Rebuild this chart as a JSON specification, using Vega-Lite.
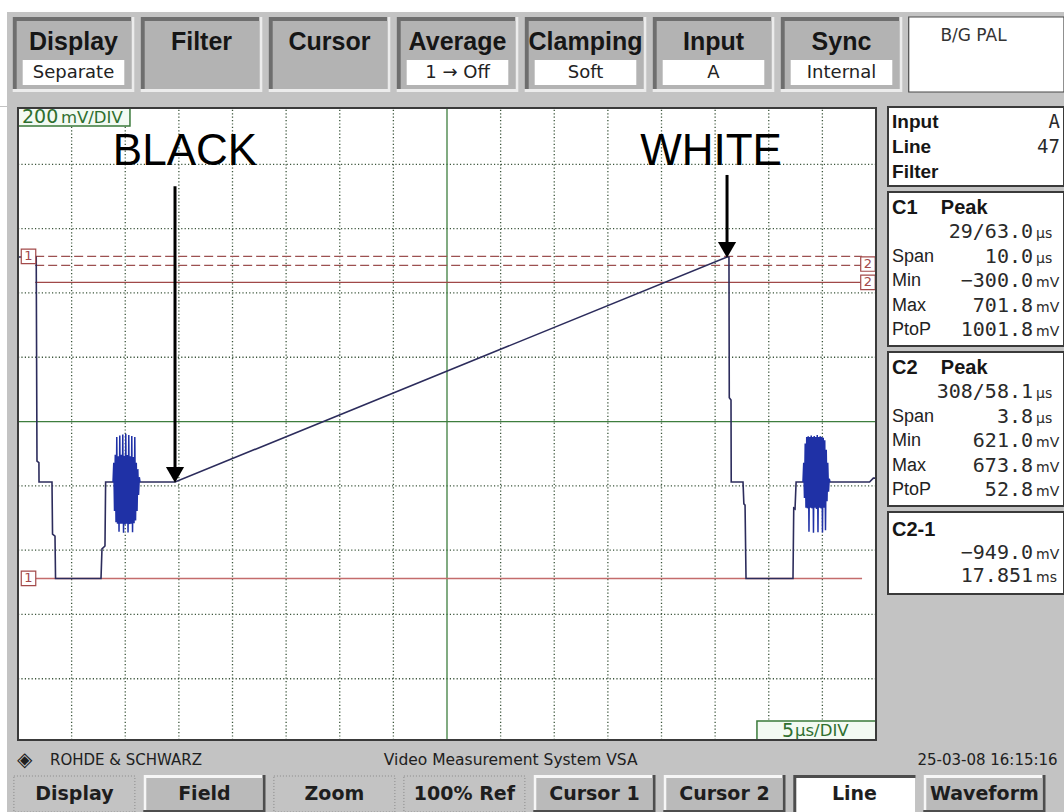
{
  "$schema": "https://vega.github.io/schema/vega-lite/v6.json",
  "padding": 0,
  "background": "#c3c3c3",
  "spacing": 0,
  "config": {"view": {"stroke": null}},
  "datasets": {
    "top": [
      {"name": "Display", "sub": "Separate"},
      {"name": "Filter"},
      {"name": "Cursor"},
      {"name": "Average", "sub": "1     → Off"},
      {"name": "Clamping", "sub": "Soft"},
      {"name": "Input", "sub": "A"},
      {"name": "Sync", "sub": "Internal"},
      {"name": "B/G PAL"}
    ],
    "bottom": [
      {"name": "Display", "state": "flat"},
      {"name": "Field", "state": "raised"},
      {"name": "Zoom", "state": "flat"},
      {"name": "100% Ref", "state": "flat"},
      {"name": "Cursor 1", "state": "raised"},
      {"name": "Cursor 2", "state": "raised"},
      {"name": "Line", "state": "active"},
      {"name": "Waveform", "state": "raised"}
    ],
    "brand": [
      {"part": "logo", "label": "◈"},
      {"part": "maker", "label": "ROHDE & SCHWARZ"},
      {"part": "system", "label": "Video Measurement System VSA"},
      {"part": "date", "label": "25-03-08  16:15:16"}
    ],
    "gridv": [
      {"t": 5}, {"t": 10}, {"t": 15}, {"t": 20}, {"t": 25}, {"t": 30}, {"t": 35},
      {"t": 40, "major": true},
      {"t": 45}, {"t": 50}, {"t": 55}, {"t": 60}, {"t": 65}, {"t": 70}, {"t": 75}
    ],
    "gridh": [
      {"v": -612}, {"v": -412}, {"v": -212}, {"v": -12},
      {"v": 188, "major": true},
      {"v": 388}, {"v": 588}, {"v": 788}, {"v": 988}
    ],
    "cursors": [
      {"id": "C1 max", "v": 701.8, "kind": "dash"},
      {"id": "C2 max", "v": 673.8, "kind": "dash"},
      {"id": "C2 min", "v": 621.0, "kind": "solid"},
      {"id": "C1 min", "v": -300.0, "kind": "solid"}
    ],
    "markers": [
      {"label": "1", "t": 0.98, "v": 701.8},
      {"label": "1", "t": 0.98, "v": -300.0},
      {"label": "2", "t": 79.25, "v": 678.0},
      {"label": "2", "t": 79.25, "v": 621.0}
    ],
    "arrows": [
      {"label": "BLACK", "tl": 15.57, "ta": 14.64, "vtop": 920, "vhead": 22},
      {"label": "WHITE", "tl": 64.62, "ta": 66.11, "vtop": 955, "vhead": 722}
    ],
    "trace": [
      {"series": "trace", "t": 0, "v": 700},
      {"series": "trace", "t": 1.70, "v": 700},
      {"series": "trace", "t": 1.77, "v": 65},
      {"series": "trace", "t": 1.95, "v": 60},
      {"series": "trace", "t": 1.96, "v": 0},
      {"series": "trace", "t": 3.17, "v": 0},
      {"series": "trace", "t": 3.22, "v": -162},
      {"series": "trace", "t": 3.45, "v": -168},
      {"series": "trace", "t": 3.50, "v": -300},
      {"series": "trace", "t": 7.74, "v": -300},
      {"series": "trace", "t": 7.83, "v": -208},
      {"series": "trace", "t": 8.11, "v": -199},
      {"series": "trace", "t": 8.17, "v": 0},
      {"series": "trace", "t": 14.64, "v": 0},
      {"series": "trace", "t": 66.11, "v": 700},
      {"series": "trace", "t": 66.29, "v": 700},
      {"series": "trace", "t": 66.32, "v": 262},
      {"series": "trace", "t": 66.48, "v": 255},
      {"series": "trace", "t": 66.50, "v": 0},
      {"series": "trace", "t": 67.60, "v": 0},
      {"series": "trace", "t": 67.68, "v": -68},
      {"series": "trace", "t": 67.79, "v": -72},
      {"series": "trace", "t": 67.88, "v": -300},
      {"series": "trace", "t": 72.26, "v": -300},
      {"series": "trace", "t": 72.33, "v": -81},
      {"series": "trace", "t": 72.45, "v": -84},
      {"series": "trace", "t": 72.55, "v": 0},
      {"series": "trace", "t": 79.40, "v": 0},
      {"series": "trace", "t": 79.75, "v": 12},
      {"series": "trace", "t": 80.0, "v": 12},
      {"series": "burst1", "t": 8.86, "v": 0},
      {"series": "burst1", "t": 8.93, "v": 60},
      {"series": "burst1", "t": 9.00, "v": -90},
      {"series": "burst1", "t": 9.07, "v": 85},
      {"series": "burst1", "t": 9.14, "v": -125},
      {"series": "burst1", "t": 9.21, "v": 140},
      {"series": "burst1", "t": 9.28, "v": -130},
      {"series": "burst1", "t": 9.35, "v": 80},
      {"series": "burst1", "t": 9.42, "v": -155},
      {"series": "burst1", "t": 9.49, "v": 145},
      {"series": "burst1", "t": 9.56, "v": -130},
      {"series": "burst1", "t": 9.63, "v": 85},
      {"series": "burst1", "t": 9.70, "v": -130},
      {"series": "burst1", "t": 9.77, "v": 148},
      {"series": "burst1", "t": 9.84, "v": -158},
      {"series": "burst1", "t": 9.91, "v": 82},
      {"series": "burst1", "t": 9.98, "v": -132},
      {"series": "burst1", "t": 10.05, "v": 150},
      {"series": "burst1", "t": 10.12, "v": -130},
      {"series": "burst1", "t": 10.19, "v": 84},
      {"series": "burst1", "t": 10.26, "v": -157},
      {"series": "burst1", "t": 10.33, "v": 146},
      {"series": "burst1", "t": 10.40, "v": -131},
      {"series": "burst1", "t": 10.47, "v": 80},
      {"series": "burst1", "t": 10.54, "v": -130},
      {"series": "burst1", "t": 10.61, "v": 143},
      {"series": "burst1", "t": 10.68, "v": -156},
      {"series": "burst1", "t": 10.75, "v": 78},
      {"series": "burst1", "t": 10.82, "v": -128},
      {"series": "burst1", "t": 10.89, "v": 140},
      {"series": "burst1", "t": 10.96, "v": -120},
      {"series": "burst1", "t": 11.03, "v": 60},
      {"series": "burst1", "t": 11.10, "v": -90},
      {"series": "burst1", "t": 11.17, "v": 40},
      {"series": "burst1", "t": 11.24, "v": -40},
      {"series": "burst1", "t": 11.31, "v": 15},
      {"series": "burst1", "t": 11.38, "v": 0},
      {"series": "burst2", "t": 73.19, "v": 0},
      {"series": "burst2", "t": 73.26, "v": 60},
      {"series": "burst2", "t": 73.33, "v": -50},
      {"series": "burst2", "t": 73.40, "v": 120},
      {"series": "burst2", "t": 73.47, "v": -80},
      {"series": "burst2", "t": 73.54, "v": 140},
      {"series": "burst2", "t": 73.61, "v": -82},
      {"series": "burst2", "t": 73.68, "v": 142},
      {"series": "burst2", "t": 73.75, "v": -155},
      {"series": "burst2", "t": 73.82, "v": 140},
      {"series": "burst2", "t": 73.89, "v": -80},
      {"series": "burst2", "t": 73.96, "v": 145},
      {"series": "burst2", "t": 74.03, "v": -82},
      {"series": "burst2", "t": 74.10, "v": 140},
      {"series": "burst2", "t": 74.17, "v": -158},
      {"series": "burst2", "t": 74.24, "v": 143},
      {"series": "burst2", "t": 74.31, "v": -80},
      {"series": "burst2", "t": 74.38, "v": 140},
      {"series": "burst2", "t": 74.45, "v": -84},
      {"series": "burst2", "t": 74.52, "v": 146},
      {"series": "burst2", "t": 74.59, "v": -156},
      {"series": "burst2", "t": 74.66, "v": 140},
      {"series": "burst2", "t": 74.73, "v": -80},
      {"series": "burst2", "t": 74.80, "v": 142},
      {"series": "burst2", "t": 74.87, "v": -82},
      {"series": "burst2", "t": 74.94, "v": 140},
      {"series": "burst2", "t": 75.01, "v": -157},
      {"series": "burst2", "t": 75.08, "v": 138},
      {"series": "burst2", "t": 75.15, "v": -80},
      {"series": "burst2", "t": 75.22, "v": 130},
      {"series": "burst2", "t": 75.29, "v": -150},
      {"series": "burst2", "t": 75.36, "v": 100},
      {"series": "burst2", "t": 75.43, "v": -60},
      {"series": "burst2", "t": 75.50, "v": 60},
      {"series": "burst2", "t": 75.57, "v": -30},
      {"series": "burst2", "t": 75.64, "v": 10},
      {"series": "burst2", "t": 75.71, "v": 0}
    ],
    "panel": [
      {"box": "info", "row": "r0", "head": "Input", "val": "A"},
      {"box": "info", "row": "r1", "head": "Line", "val": "47"},
      {"box": "info", "row": "r2", "head": "Filter"},
      {"box": "c1", "row": "r0", "head": "C1", "head2": "Peak"},
      {"box": "c1", "row": "r1", "num": "29/63.0", "unit": "µs"},
      {"box": "c1", "row": "r2", "lab": "Span", "num": "10.0", "unit": "µs"},
      {"box": "c1", "row": "r3", "lab": "Min", "num": "−300.0", "unit": "mV"},
      {"box": "c1", "row": "r4", "lab": "Max", "num": "701.8", "unit": "mV"},
      {"box": "c1", "row": "r5", "lab": "PtoP", "num": "1001.8", "unit": "mV"},
      {"box": "c2", "row": "r0", "head": "C2", "head2": "Peak"},
      {"box": "c2", "row": "r1", "num": "308/58.1", "unit": "µs"},
      {"box": "c2", "row": "r2", "lab": "Span", "num": "3.8", "unit": "µs"},
      {"box": "c2", "row": "r3", "lab": "Min", "num": "621.0", "unit": "mV"},
      {"box": "c2", "row": "r4", "lab": "Max", "num": "673.8", "unit": "mV"},
      {"box": "c2", "row": "r5", "lab": "PtoP", "num": "52.8", "unit": "mV"},
      {"box": "diff", "row": "r0", "head": "C2-1"},
      {"box": "diff", "row": "r1", "num": "−949.0", "unit": "mV"},
      {"box": "diff", "row": "r2", "num": "17.851", "unit": "ms"}
    ]
  },
  "vconcat": [
    {
      "width": 1064,
      "height": 106,
      "resolve": {"scale": {"x": "independent"}},
      "layer": [
        {
          "data": {"values": [{"strip": "top"}]},
          "mark": {"type": "rect", "color": "#ffffff"},
          "encoding": {
            "y": {"datum": 1, "type": "quantitative", "scale": {"domain": [0, 1], "nice": false, "zero": false}, "axis": null},
            "y2": {"datum": 0.8868}
          }
        },
        {
          "data": {"values": [{"strip": "left"}]},
          "mark": {"type": "rect", "color": "#ffffff"},
          "encoding": {
            "x": {"datum": 0, "type": "quantitative", "scale": {"domain": [0, 1], "nice": false, "zero": false}, "axis": null},
            "x2": {"datum": 0.0066},
            "y": {"datum": 1, "type": "quantitative"},
            "y2": {"datum": 0}
          }
        },
        {
          "data": {"name": "top"},
          "encoding": {
            "x": {"field": "name", "type": "nominal", "axis": null,
              "scale": {"domain": ["Display", "Filter", "Cursor", "Average", "Clamping", "Input", "Sync", "B/G PAL"], "paddingInner": 0.05, "paddingOuter": 0.18125, "align": 0.2737}}
          },
          "layer": [
            {
              "transform": [{"filter": "datum.name != 'B/G PAL'"}],
              "mark": {"type": "bar", "color": "#ececec", "width": {"band": 1}},
              "encoding": {"y": {"datum": 0.8396, "type": "quantitative"}, "y2": {"datum": 0.1321}}
            },
            {
              "transform": [{"filter": "datum.name != 'B/G PAL'"}],
              "mark": {"type": "bar", "color": "#6e6e6e", "width": {"band": 0.975}, "xOffset": -1.5, "y2Offset": -3},
              "encoding": {"y": {"datum": 0.8396, "type": "quantitative"}, "y2": {"datum": 0.1321}}
            },
            {
              "transform": [{"filter": "datum.name != 'B/G PAL'"}],
              "mark": {"type": "bar", "color": "#b3b3b3", "width": {"band": 0.9424}, "xOffset": 0.5, "yOffset": 4, "y2Offset": -3},
              "encoding": {"y": {"datum": 0.8396, "type": "quantitative"}, "y2": {"datum": 0.1321}}
            },
            {
              "transform": [{"filter": "isValid(datum.sub)"}],
              "mark": {"type": "bar", "color": "#ffffff", "width": {"band": 0.8355}},
              "encoding": {"y": {"datum": 0.434, "type": "quantitative"}, "y2": {"datum": 0.198}}
            },
            {
              "transform": [{"filter": "datum.name == 'B/G PAL'"}],
              "mark": {"type": "bar", "fill": "#ffffff", "stroke": "#4a4a4a", "strokeWidth": 1.2, "width": {"band": 1.277}, "xOffset": 16.85},
              "encoding": {"y": {"datum": 0.8396, "type": "quantitative"}, "y2": {"datum": 0.1321}}
            },
            {
              "transform": [{"filter": "datum.name != 'B/G PAL'"}],
              "mark": {"type": "text", "font": "Liberation Sans", "fontWeight": "bold", "fontSize": 25, "color": "#161616", "baseline": "middle"},
              "encoding": {"y": {"datum": 0.6038, "type": "quantitative"}, "text": {"field": "name"}}
            },
            {
              "transform": [{"filter": "isValid(datum.sub)"}],
              "mark": {"type": "text", "font": "DejaVu Sans", "fontSize": 18, "color": "#222222", "baseline": "middle"},
              "encoding": {"y": {"datum": 0.311, "type": "quantitative"}, "text": {"field": "sub"}}
            },
            {
              "transform": [{"filter": "datum.name == 'B/G PAL'"}],
              "mark": {"type": "text", "font": "DejaVu Sans", "fontSize": 17, "color": "#333333", "baseline": "middle", "dx": 4},
              "encoding": {"y": {"datum": 0.66, "type": "quantitative"}, "text": {"field": "name"}}
            }
          ]
        }
      ]
    },
    {
      "hconcat": [
        {
          "width": 882,
          "height": 638,
          "layer": [
            {
              "data": {"values": [{"strip": "left"}]},
              "mark": {"type": "rect", "color": "#ffffff"},
              "encoding": {
                "x": {"datum": -1.678, "type": "quantitative", "scale": {"domain": [-1.678, 80.559], "nice": false, "zero": false}, "axis": null},
                "x2": {"datum": -1.026},
                "y": {"datum": -818, "type": "quantitative", "scale": {"domain": [-818, 1166.4], "nice": false, "zero": false}, "axis": null},
                "y2": {"datum": 1166.4}
              }
            },
            {
              "data": {"values": [{"area": "screen"}]},
              "mark": {"type": "rect", "color": "#ffffff"},
              "encoding": {
                "x": {"datum": 0, "type": "quantitative"},
                "x2": {"datum": 80},
                "y": {"datum": -802.5, "type": "quantitative"},
                "y2": {"datum": 1163.3}
              }
            },
            {
              "data": {"name": "gridv"},
              "transform": [{"filter": "!datum.major"}],
              "mark": {"type": "rule", "color": "#3b553b", "strokeWidth": 1.3, "strokeDash": [1.2, 2.2]},
              "encoding": {"x": {"field": "t", "type": "quantitative"}, "y": {"datum": -802.5, "type": "quantitative"}, "y2": {"datum": 1163.3}}
            },
            {
              "data": {"name": "gridh"},
              "transform": [{"filter": "!datum.major"}],
              "mark": {"type": "rule", "color": "#3b553b", "strokeWidth": 1.3, "strokeDash": [1.2, 2.2]},
              "encoding": {"y": {"field": "v", "type": "quantitative"}, "x": {"datum": 0, "type": "quantitative"}, "x2": {"datum": 80}}
            },
            {
              "data": {"name": "gridv"},
              "transform": [{"filter": "datum.major"}],
              "mark": {"type": "rule", "color": "#3e7e3e", "strokeWidth": 1.3},
              "encoding": {"x": {"field": "t", "type": "quantitative"}, "y": {"datum": -802.5, "type": "quantitative"}, "y2": {"datum": 1163.3}}
            },
            {
              "data": {"name": "gridh"},
              "transform": [{"filter": "datum.major"}],
              "mark": {"type": "rule", "color": "#3e7e3e", "strokeWidth": 1.3},
              "encoding": {"y": {"field": "v", "type": "quantitative"}, "x": {"datum": 0, "type": "quantitative"}, "x2": {"datum": 80}}
            },
            {
              "data": {"name": "cursors"},
              "mark": {"type": "rule", "strokeWidth": 1.4},
              "encoding": {
                "y": {"field": "v", "type": "quantitative"},
                "x": {"datum": 1.6, "type": "quantitative"},
                "x2": {"datum": 78.7},
                "color": {"field": "id", "type": "nominal", "legend": null,
                  "scale": {"domain": ["C1 max", "C2 max", "C2 min", "C1 min"], "range": ["#9c5050", "#9c5050", "#a04848", "#c46c6c"]}},
                "strokeDash": {"field": "kind", "type": "nominal", "legend": null,
                  "scale": {"domain": ["dash", "solid"], "range": [[9, 4], [1, 0]]}}
              }
            },
            {
              "data": {"name": "trace"},
              "transform": [{"filter": "datum.series == 'trace'"}],
              "mark": {"type": "line", "strokeWidth": 1.6, "color": "#2c2c5c", "interpolate": "linear"},
              "encoding": {
                "x": {"field": "t", "type": "quantitative"},
                "y": {"field": "v", "type": "quantitative"}
              }
            },
            {
              "data": {"name": "trace"},
              "transform": [{"filter": "datum.series != 'trace'"}],
              "mark": {"type": "line", "strokeWidth": 1.5, "color": "#1f31a6", "interpolate": "linear"},
              "encoding": {
                "x": {"field": "t", "type": "quantitative"},
                "y": {"field": "v", "type": "quantitative"},
                "detail": {"field": "series", "type": "nominal"}
              }
            },
            {
              "data": {"name": "arrows"},
              "mark": {"type": "rule", "color": "#000000", "strokeWidth": 3},
              "encoding": {"x": {"field": "ta", "type": "quantitative"}, "y": {"field": "vtop", "type": "quantitative"}, "y2": {"field": "vhead"}}
            },
            {
              "data": {"name": "arrows"},
              "mark": {"type": "point", "shape": "triangle-down", "size": 330, "filled": true, "color": "#000000", "opacity": 1},
              "encoding": {"x": {"field": "ta", "type": "quantitative"}, "y": {"field": "vhead", "type": "quantitative"}}
            },
            {
              "data": {"name": "arrows"},
              "mark": {"type": "text", "font": "Liberation Sans", "fontSize": 44, "color": "#000000", "baseline": "middle"},
              "encoding": {"x": {"field": "tl", "type": "quantitative"}, "y": {"datum": 1026, "type": "quantitative"}, "text": {"field": "label"}}
            },
            {
              "data": {"values": [{"scale": "200mV/DIV"}]},
              "mark": {"type": "rect", "fill": "#f3faf3", "stroke": "#3a7a3a", "strokeWidth": 1.5},
              "encoding": {"x": {"datum": 0, "type": "quantitative"}, "x2": {"datum": 10.44}, "y": {"datum": 1107.2, "type": "quantitative"}, "y2": {"datum": 1163.3}}
            },
            {
              "data": {"values": [{"scale": "5µs/DIV"}]},
              "mark": {"type": "rect", "fill": "#f3faf3", "stroke": "#3a7a3a", "strokeWidth": 1.5},
              "encoding": {"x": {"datum": 68.9, "type": "quantitative"}, "x2": {"datum": 80}, "y": {"datum": -802.5, "type": "quantitative"}, "y2": {"datum": -743.4}}
            },
            {
              "data": {"values": [{"txt": "200"}]},
              "mark": {"type": "text", "font": "DejaVu Sans", "fontSize": 19, "color": "#2f6f2f", "align": "left", "baseline": "middle"},
              "encoding": {"x": {"datum": 0.37, "type": "quantitative"}, "y": {"datum": 1134, "type": "quantitative"}, "text": {"field": "txt"}}
            },
            {
              "data": {"values": [{"txt": "mV/DIV"}]},
              "mark": {"type": "text", "font": "DejaVu Sans", "fontSize": 16.5, "color": "#2f6f2f", "align": "left", "baseline": "middle"},
              "encoding": {"x": {"datum": 4.0, "type": "quantitative"}, "y": {"datum": 1133, "type": "quantitative"}, "text": {"field": "txt"}}
            },
            {
              "data": {"values": [{"txt": "5"}]},
              "mark": {"type": "text", "font": "DejaVu Sans", "fontSize": 19, "color": "#2f6f2f", "align": "left", "baseline": "middle"},
              "encoding": {"x": {"datum": 71.24, "type": "quantitative"}, "y": {"datum": -773, "type": "quantitative"}, "text": {"field": "txt"}}
            },
            {
              "data": {"values": [{"txt": "µs/DIV"}]},
              "mark": {"type": "text", "font": "DejaVu Sans", "fontSize": 16.5, "color": "#2f6f2f", "align": "left", "baseline": "middle"},
              "encoding": {"x": {"datum": 72.45, "type": "quantitative"}, "y": {"datum": -774, "type": "quantitative"}, "text": {"field": "txt"}}
            },
            {
              "data": {"name": "markers"},
              "mark": {"type": "point", "shape": "square", "size": 210, "filled": true, "fill": "#ffffff", "stroke": "#a34a4a", "strokeWidth": 1.2, "opacity": 1, "fillOpacity": 1, "strokeOpacity": 1},
              "encoding": {"x": {"field": "t", "type": "quantitative"}, "y": {"field": "v", "type": "quantitative"}}
            },
            {
              "data": {"name": "markers"},
              "mark": {"type": "text", "font": "DejaVu Sans", "fontSize": 13, "color": "#a34a4a", "baseline": "middle"},
              "encoding": {"x": {"field": "t", "type": "quantitative"}, "y": {"field": "v", "type": "quantitative"}, "text": {"field": "label"}}
            },
            {
              "data": {"values": [{"area": "screen"}]},
              "mark": {"type": "rect", "filled": false, "stroke": "#3a3a3a", "strokeWidth": 2},
              "encoding": {
                "x": {"datum": 0, "type": "quantitative"},
                "x2": {"datum": 80},
                "y": {"datum": -802.5, "type": "quantitative"},
                "y2": {"datum": 1163.3}
              }
            }
          ]
        },
        {
          "vconcat": [
            {
              "width": 176,
              "height": 79,
              "view": {"fill": "#ffffff", "stroke": "#3a3a3a", "strokeWidth": 2},
              "data": {"name": "panel"},
              "transform": [{"filter": "datum.box == 'info'"}],
              "encoding": {"y": {"field": "row", "type": "ordinal", "scale": {"type": "point", "domain": ["r0", "r1", "r2"], "padding": 0.58}, "axis": null}},
              "layer": [
                {
                  "transform": [{"filter": "isValid(datum.head)"}],
                  "mark": {"type": "text", "align": "left", "baseline": "middle", "font": "Liberation Sans", "fontWeight": "bold", "fontSize": 19, "color": "#161616"},
                  "encoding": {"x": {"datum": 0.023, "type": "quantitative", "scale": {"domain": [0, 1], "nice": false, "zero": false}, "axis": null}, "text": {"field": "head"}}
                },
                {
                  "transform": [{"filter": "isValid(datum.val)"}],
                  "mark": {"type": "text", "align": "right", "baseline": "middle", "font": "DejaVu Sans Mono", "fontSize": 19, "color": "#2a2a2a"},
                  "encoding": {"x": {"datum": 0.977, "type": "quantitative"}, "text": {"field": "val"}}
                }
              ]
            },
            {
              "width": 176,
              "height": 154,
              "view": {"fill": "#ffffff", "stroke": "#3a3a3a", "strokeWidth": 2},
              "data": {"name": "panel"},
              "transform": [{"filter": "datum.box == 'c1'"}],
              "encoding": {"y": {"field": "row", "type": "ordinal", "scale": {"type": "point", "domain": ["r0", "r1", "r2", "r3", "r4", "r5"], "padding": 0.643}, "axis": null}},
              "layer": [
                {
                  "transform": [{"filter": "isValid(datum.head)"}],
                  "mark": {"type": "text", "align": "left", "baseline": "middle", "font": "Liberation Sans", "fontWeight": "bold", "fontSize": 20, "color": "#161616"},
                  "encoding": {"x": {"datum": 0.023, "type": "quantitative", "scale": {"domain": [0, 1], "nice": false, "zero": false}, "axis": null}, "text": {"field": "head"}}
                },
                {
                  "transform": [{"filter": "isValid(datum.head2)"}],
                  "mark": {"type": "text", "align": "left", "baseline": "middle", "font": "Liberation Sans", "fontWeight": "bold", "fontSize": 20, "color": "#161616"},
                  "encoding": {"x": {"datum": 0.3, "type": "quantitative"}, "text": {"field": "head2"}}
                },
                {
                  "transform": [{"filter": "isValid(datum.lab)"}],
                  "mark": {"type": "text", "align": "left", "baseline": "middle", "font": "Liberation Sans", "fontSize": 18, "color": "#222222"},
                  "encoding": {"x": {"datum": 0.023, "type": "quantitative"}, "text": {"field": "lab"}}
                },
                {
                  "transform": [{"filter": "isValid(datum.num)"}],
                  "mark": {"type": "text", "align": "right", "baseline": "middle", "font": "DejaVu Sans Mono", "fontSize": 20, "color": "#2a2a2a"},
                  "encoding": {"x": {"datum": 0.824, "type": "quantitative"}, "text": {"field": "num"}}
                },
                {
                  "transform": [{"filter": "isValid(datum.unit)"}],
                  "mark": {"type": "text", "align": "left", "baseline": "middle", "font": "DejaVu Sans", "fontSize": 14, "color": "#2a2a2a", "dy": 2},
                  "encoding": {"x": {"datum": 0.841, "type": "quantitative"}, "text": {"field": "unit"}}
                }
              ]
            },
            {
              "width": 176,
              "height": 154,
              "view": {"fill": "#ffffff", "stroke": "#3a3a3a", "strokeWidth": 2},
              "data": {"name": "panel"},
              "transform": [{"filter": "datum.box == 'c2'"}],
              "encoding": {"y": {"field": "row", "type": "ordinal", "scale": {"type": "point", "domain": ["r0", "r1", "r2", "r3", "r4", "r5"], "padding": 0.643}, "axis": null}},
              "layer": [
                {
                  "transform": [{"filter": "isValid(datum.head)"}],
                  "mark": {"type": "text", "align": "left", "baseline": "middle", "font": "Liberation Sans", "fontWeight": "bold", "fontSize": 20, "color": "#161616"},
                  "encoding": {"x": {"datum": 0.023, "type": "quantitative", "scale": {"domain": [0, 1], "nice": false, "zero": false}, "axis": null}, "text": {"field": "head"}}
                },
                {
                  "transform": [{"filter": "isValid(datum.head2)"}],
                  "mark": {"type": "text", "align": "left", "baseline": "middle", "font": "Liberation Sans", "fontWeight": "bold", "fontSize": 20, "color": "#161616"},
                  "encoding": {"x": {"datum": 0.3, "type": "quantitative"}, "text": {"field": "head2"}}
                },
                {
                  "transform": [{"filter": "isValid(datum.lab)"}],
                  "mark": {"type": "text", "align": "left", "baseline": "middle", "font": "Liberation Sans", "fontSize": 18, "color": "#222222"},
                  "encoding": {"x": {"datum": 0.023, "type": "quantitative"}, "text": {"field": "lab"}}
                },
                {
                  "transform": [{"filter": "isValid(datum.num)"}],
                  "mark": {"type": "text", "align": "right", "baseline": "middle", "font": "DejaVu Sans Mono", "fontSize": 20, "color": "#2a2a2a"},
                  "encoding": {"x": {"datum": 0.824, "type": "quantitative"}, "text": {"field": "num"}}
                },
                {
                  "transform": [{"filter": "isValid(datum.unit)"}],
                  "mark": {"type": "text", "align": "left", "baseline": "middle", "font": "DejaVu Sans", "fontSize": 14, "color": "#2a2a2a", "dy": 2},
                  "encoding": {"x": {"datum": 0.841, "type": "quantitative"}, "text": {"field": "unit"}}
                }
              ]
            },
            {
              "width": 176,
              "height": 82,
              "view": {"fill": "#ffffff", "stroke": "#3a3a3a", "strokeWidth": 2},
              "data": {"name": "panel"},
              "transform": [{"filter": "datum.box == 'diff'"}],
              "encoding": {"y": {"field": "row", "type": "ordinal", "scale": {"type": "point", "domain": ["r0", "r1", "r2"], "padding": 0.822}, "axis": null}},
              "layer": [
                {
                  "transform": [{"filter": "isValid(datum.head)"}],
                  "mark": {"type": "text", "align": "left", "baseline": "middle", "font": "Liberation Sans", "fontWeight": "bold", "fontSize": 20, "color": "#161616"},
                  "encoding": {"x": {"datum": 0.023, "type": "quantitative", "scale": {"domain": [0, 1], "nice": false, "zero": false}, "axis": null}, "text": {"field": "head"}}
                },
                {
                  "transform": [{"filter": "isValid(datum.num)"}],
                  "mark": {"type": "text", "align": "right", "baseline": "middle", "font": "DejaVu Sans Mono", "fontSize": 20, "color": "#2a2a2a"},
                  "encoding": {"x": {"datum": 0.824, "type": "quantitative"}, "text": {"field": "num"}}
                },
                {
                  "transform": [{"filter": "isValid(datum.unit)"}],
                  "mark": {"type": "text", "align": "left", "baseline": "middle", "font": "DejaVu Sans", "fontSize": 14, "color": "#2a2a2a", "dy": 2},
                  "encoding": {"x": {"datum": 0.841, "type": "quantitative"}, "text": {"field": "unit"}}
                }
              ]
            }
          ],
          "spacing": 6,
          "bounds": "flush"
        }
      ],
      "spacing": 6,
      "bounds": "flush"
    },
    {
      "vconcat": [
        {
          "width": 1064,
          "height": 30,
          "data": {"name": "brand"},
          "encoding": {"y": {"datum": 0.5, "type": "quantitative", "scale": {"domain": [0, 1], "nice": false, "zero": false}, "axis": null}},
          "layer": [
            {
              "data": {"values": [{"strip": "left"}]},
              "mark": {"type": "rect", "color": "#ffffff"},
              "encoding": {
                "x": {"datum": 0, "type": "quantitative", "scale": {"domain": [0, 1], "nice": false, "zero": false}, "axis": null},
                "x2": {"datum": 0.0066},
                "y": {"datum": 0, "type": "quantitative"},
                "y2": {"datum": 1}
              }
            },
            {
              "transform": [{"filter": "datum.part == 'logo'"}],
              "mark": {"type": "text", "align": "left", "baseline": "middle", "font": "DejaVu Sans", "fontSize": 20, "color": "#202020"},
              "encoding": {"x": {"datum": 0.016, "type": "quantitative"}, "text": {"field": "label"}}
            },
            {
              "transform": [{"filter": "datum.part == 'maker'"}],
              "mark": {"type": "text", "align": "left", "baseline": "middle", "font": "DejaVu Sans", "fontSize": 15, "color": "#202020"},
              "encoding": {"x": {"datum": 0.047, "type": "quantitative"}, "text": {"field": "label"}}
            },
            {
              "transform": [{"filter": "datum.part == 'system'"}],
              "mark": {"type": "text", "align": "center", "baseline": "middle", "font": "DejaVu Sans", "fontSize": 15.5, "color": "#202020"},
              "encoding": {"x": {"datum": 0.48, "type": "quantitative"}, "text": {"field": "label"}}
            },
            {
              "transform": [{"filter": "datum.part == 'date'"}],
              "mark": {"type": "text", "align": "right", "baseline": "middle", "font": "DejaVu Sans", "fontSize": 15, "color": "#202020"},
              "encoding": {"x": {"datum": 0.994, "type": "quantitative"}, "text": {"field": "label"}}
            }
          ]
        },
        {
          "width": 1064,
          "height": 38,
          "resolve": {"scale": {"x": "independent"}},
          "layer": [
            {
              "data": {"values": [{"strip": "left"}]},
              "mark": {"type": "rect", "color": "#ffffff"},
              "encoding": {
                "x": {"datum": 0, "type": "quantitative", "scale": {"domain": [0, 1], "nice": false, "zero": false}, "axis": null},
                "x2": {"datum": 0.0066},
                "y": {"datum": 0, "type": "quantitative", "scale": {"domain": [0, 1], "nice": false, "zero": false}, "axis": null},
                "y2": {"datum": 1}
              }
            },
            {
              "data": {"name": "bottom"},
              "encoding": {
                "x": {"field": "name", "type": "nominal", "axis": null,
                  "scale": {"domain": ["Display", "Field", "Zoom", "100% Ref", "Cursor 1", "Cursor 2", "Line", "Waveform"], "paddingInner": 0.06, "paddingOuter": 0.1223, "align": 0.418}}
              },
              "layer": [
                {
                  "transform": [{"filter": "datum.state == 'raised' || datum.state == 'active'"}],
                  "mark": {"type": "bar", "color": "#4d4d4d", "width": {"band": 1}},
                  "encoding": {"y": {"datum": 1, "type": "quantitative"}, "y2": {"datum": 0}}
                },
                {
                  "transform": [{"filter": "datum.state == 'raised'"}],
                  "mark": {"type": "bar", "color": "#f6f6f6", "width": {"band": 0.9755}, "xOffset": -1.5, "y2Offset": -3},
                  "encoding": {"y": {"datum": 1, "type": "quantitative"}, "y2": {"datum": 0}}
                },
                {
                  "transform": [{"filter": "datum.state == 'raised'"}],
                  "mark": {"type": "bar", "color": "#bababa", "width": {"band": 0.951}, "yOffset": 3, "y2Offset": -3},
                  "encoding": {"y": {"datum": 1, "type": "quantitative"}, "y2": {"datum": 0}}
                },
                {
                  "transform": [{"filter": "datum.state == 'active'"}],
                  "mark": {"type": "bar", "color": "#ffffff", "width": {"band": 0.9755}, "xOffset": 1.5, "yOffset": 3},
                  "encoding": {"y": {"datum": 1, "type": "quantitative"}, "y2": {"datum": 0}}
                },
                {
                  "transform": [{"filter": "datum.state == 'flat'"}],
                  "mark": {"type": "bar", "fill": "#c3c3c3", "stroke": "#8a8a8a", "strokeWidth": 1, "strokeDash": [1, 2], "width": {"band": 0.99}, "yOffset": 1, "y2Offset": -1},
                  "encoding": {"y": {"datum": 1, "type": "quantitative"}, "y2": {"datum": 0}}
                },
                {
                  "mark": {"type": "text", "font": "DejaVu Sans", "fontWeight": "bold", "fontSize": 19, "color": "#1e1e1e", "baseline": "middle"},
                  "encoding": {"y": {"datum": 0.5, "type": "quantitative"}, "text": {"field": "name"}}
                }
              ]
            }
          ]
        }
      ],
      "spacing": 0,
      "bounds": "flush"
    }
  ]
}
